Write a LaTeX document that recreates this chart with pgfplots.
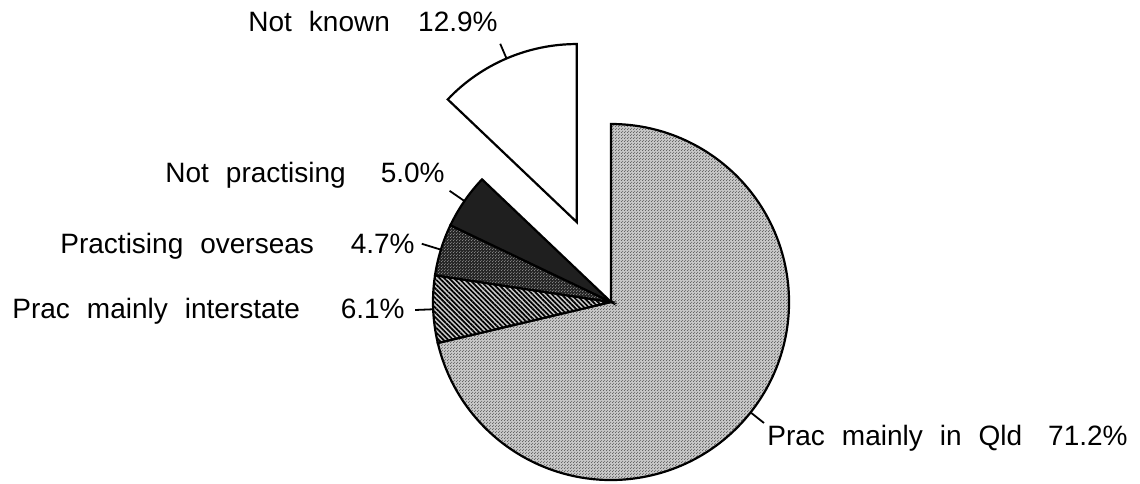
\documentclass[border=0pt]{standalone}
\usepackage{pgfplots}
\pgfplotsset{compat=1.18}
\usepackage{pgfplotstable}
\usepackage{fontspec}
\setmainfont{Liberation Sans}
\usetikzlibrary{patterns,patterns.meta}

\tikzdeclarepattern{
  name=finedots, type=uncolored,
  bottom left={(0pt,0pt)}, top right={(1.5pt,1.5pt)},
  tile size={(1.5pt,1.5pt)},
  code={\fill (0.375pt,0.375pt) circle (0.3pt); \fill (1.125pt,1.125pt) circle (0.3pt);}
}

\pgfplotstableread{
label value
NotKnown 12.9
NotPractising 5.0
Overseas 4.7
Interstate 6.1
Qld 71.2
}\piedata

\newcommand\getv[2]{\pgfplotstablegetelem{#1}{value}\of\piedata\global\let#2\pgfplotsretval}
\newcommand\labtxt[1]{\fontsize{14}{16}\selectfont\spaceskip=8.5pt\relax #1}

\begin{document}
\begin{tikzpicture}
\getv{0}\pieVNK \getv{1}\pieVNP \getv{2}\pieVOS \getv{3}\pieVIS \getv{4}\pieVQ
\pgfmathsetmacro\pieAA{90}
\pgfmathsetmacro\pieAB{\pieAA+3.6*\pieVNK}
\pgfmathsetmacro\pieAC{\pieAB+3.6*\pieVNP}
\pgfmathsetmacro\pieAD{\pieAC+3.6*\pieVOS}
\pgfmathsetmacro\pieAE{\pieAD+3.6*\pieVIS}
\pgfmathsetmacro\pieAF{450}
\pgfmathsetmacro\pieMNK{(\pieAA+\pieAB)/2}
\pgfmathsetmacro\pieMNP{(\pieAB+\pieAC)/2}
\pgfmathsetmacro\pieMOS{(\pieAC+\pieAD)/2}
\pgfmathsetmacro\pieMIS{(\pieAD+\pieAE)/2}
\pgfmathsetmacro\pieMQ{(\pieAE+\pieAF)/2}
\def\pieCX{611}\def\pieCY{181}
\pgfmathsetmacro\pieEX{\pieCX+87*cos(\pieMNK)}
\pgfmathsetmacro\pieEY{\pieCY+87*sin(\pieMNK)}
\def\pieR{89pt}
\begin{axis}[x=0.5pt,y=0.5pt,xmin=0,xmax=1140,ymin=0,ymax=483,
  hide axis, scale only axis, clip=false]
% Qld
\fill[preaction={fill=black!22}, pattern=finedots, pattern color=black!75]
  (axis cs:\pieCX,\pieCY) -- ++(\pieAE:\pieR) arc[start angle=\pieAE,end angle=\pieAF,radius=\pieR] -- cycle;
\draw[line width=1.1pt] (axis cs:\pieCX,\pieCY) -- ++(\pieAE:\pieR) arc[start angle=\pieAE,end angle=\pieAF,radius=\pieR] -- cycle;
% Interstate
\fill[preaction={fill=black!20}, pattern={Lines[angle=-45,distance=1.7pt,line width=0.85pt]}, pattern color=black]
  (axis cs:\pieCX,\pieCY) -- ++(\pieAD:\pieR) arc[start angle=\pieAD,end angle=\pieAE,radius=\pieR] -- cycle;
\draw[line width=1.1pt] (axis cs:\pieCX,\pieCY) -- ++(\pieAD:\pieR) arc[start angle=\pieAD,end angle=\pieAE,radius=\pieR] -- cycle;
% Overseas
\fill[preaction={fill=black!85}, pattern=finedots, pattern color=black!35]
  (axis cs:\pieCX,\pieCY) -- ++(\pieAC:\pieR) arc[start angle=\pieAC,end angle=\pieAD,radius=\pieR] -- cycle;
\draw[line width=1.1pt] (axis cs:\pieCX,\pieCY) -- ++(\pieAC:\pieR) arc[start angle=\pieAC,end angle=\pieAD,radius=\pieR] -- cycle;
% Not practising
\fill[fill=black!88]
  (axis cs:\pieCX,\pieCY) -- ++(\pieAB:\pieR) arc[start angle=\pieAB,end angle=\pieAC,radius=\pieR] -- cycle;
\draw[line width=1.1pt] (axis cs:\pieCX,\pieCY) -- ++(\pieAB:\pieR) arc[start angle=\pieAB,end angle=\pieAC,radius=\pieR] -- cycle;
% Not known (exploded)
\draw[line width=1.1pt, fill=white]
  (axis cs:\pieEX,\pieEY) -- ++(\pieAA:\pieR) arc[start angle=\pieAA,end angle=\pieAB,radius=\pieR] -- cycle;
% leader lines
\draw[line width=0.9pt] (axis cs:\pieEX,\pieEY) ++(\pieMNK:\pieR) -- ++(\pieMNK:8pt);
\draw[line width=0.9pt] (axis cs:\pieCX,\pieCY) ++(\pieMNP:\pieR) -- ++(\pieMNP:9pt);
\draw[line width=0.9pt] (axis cs:\pieCX,\pieCY) ++(\pieMOS:\pieR) -- ++(\pieMOS:10pt);
\draw[line width=0.9pt] (axis cs:\pieCX,\pieCY) ++(\pieMIS:\pieR) -- ++(\pieMIS:9pt);
\draw[line width=0.9pt] (axis cs:\pieCX,\pieCY) ++(\pieMQ:\pieR) -- ++(\pieMQ:8.5pt);
% labels
\node[inner sep=0pt, anchor=base west] at (axis cs:248,451) {\labtxt{Not known}};
\node[inner sep=0pt, anchor=base east] at (axis cs:498,451) {\labtxt{12.9\%}};
\node[inner sep=0pt, anchor=base west] at (axis cs:165,300) {\labtxt{Not practising}};
\node[inner sep=0pt, anchor=base east] at (axis cs:445,300) {\labtxt{5.0\%}};
\node[inner sep=0pt, anchor=base west] at (axis cs:60,230) {\labtxt{Practising overseas}};
\node[inner sep=0pt, anchor=base east] at (axis cs:415,230) {\labtxt{4.7\%}};
\node[inner sep=0pt, anchor=base west] at (axis cs:12,165) {\labtxt{Prac mainly interstate}};
\node[inner sep=0pt, anchor=base east] at (axis cs:405,165) {\labtxt{6.1\%}};
\node[inner sep=0pt, anchor=base west] at (axis cs:767,38) {\labtxt{Prac mainly in Qld}};
\node[inner sep=0pt, anchor=base east] at (axis cs:1128,38) {\labtxt{71.2\%}};
\coordinate (ll) at (axis cs:0,0);
\coordinate (ur) at (axis cs:1140,483);
\end{axis}
\pgfresetboundingbox
\path[use as bounding box] (ll) rectangle (ur);
\end{tikzpicture}
\end{document}
